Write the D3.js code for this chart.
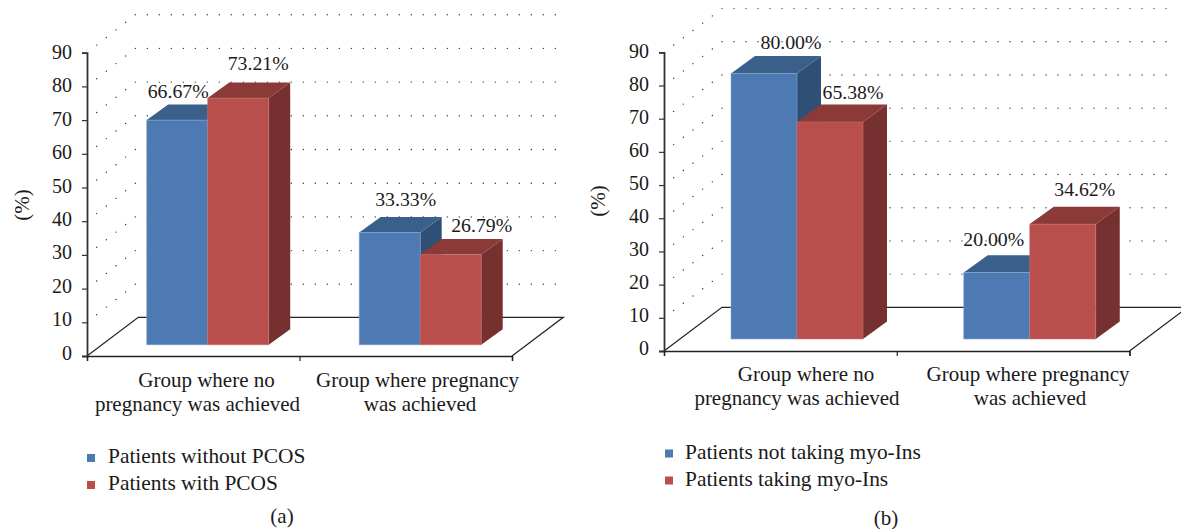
<!DOCTYPE html>
<html>
<head>
<meta charset="utf-8">
<script src="https://cdn.jsdelivr.net/npm/d3@7"></script>
<style>
html,body{margin:0;padding:0;background:#fff;overflow:hidden}
svg{display:block}
text{font-family:"Liberation Serif",serif;fill:#1a1a1a}
</style>
</head>
<body>
<svg id="c" width="1181" height="529"></svg>
<script>
const categoryLines = [["Group where no","pregnancy was achieved"],["Group where pregnancy","was achieved"]];
const yTicks = [0,10,20,30,40,50,60,70,80,90];
const seriesNamesA = ["Patients without PCOS","Patients with PCOS"];
const seriesNamesB = ["Patients not taking myo-Ins","Patients taking myo-Ins"];
const valuesA = [[66.67,33.33],[73.21,26.79]];
const valuesB = [[80.00,20.00],[65.38,34.62]];

const palette = [
  {front:"#4d7ab3",top:"#3a5f8a",side:"#2f4f76",edge:"#86a5cc"},
  {front:"#b84f4c",top:"#8b3a38",side:"#75302f",edge:"#c77573"}
];
const svg = d3.select("#c");

function panel(o){
  const g = svg.append("g");
  const y = d3.scaleLinear().domain([0,90]).range([o.y0,o.y90]);
  const x = d3.scaleBand().domain([0,1]).range([o.x0,o.x1]);
  const [dx,dy] = o.depth;

  // dotted walls
  const dots = g.append("g").attr("fill","#333");
  yTicks.slice(1).forEach(t=>{
    for(let k=1;k<=o.sideDots;k++){
      dots.append("circle").attr("cx",o.x0+k*dx/o.sideDots).attr("cy",y(t)+k*dy/o.sideDots).attr("r",0.7);
    }
    for(let px=o.x0+dx+12;px<=o.dotEnd;px+=12){
      dots.append("circle").attr("cx",px).attr("cy",y(t)+dy).attr("r",0.7);
    }
  });

  // floor outline
  const floor = d3.line();
  const fd = o.floorDepth;
  g.append("path").attr("fill","none").attr("stroke","#222").attr("stroke-width",1.2)
    .attr("d",floor([[o.x0,o.y0],[o.x0+fd[0],o.y0+fd[1]],[o.x1+fd[0],o.y0+fd[1]],[o.x1,o.y0]]));

  // axes
  const ax = g.append("g").attr("transform",`translate(${o.x0},0)`)
    .call(d3.axisLeft(y).tickValues(yTicks).tickSize(5).tickPadding(10));
  ax.selectAll("path").attr("stroke","#333").attr("stroke-width",1.8);
  ax.selectAll("line").attr("stroke","#333").attr("stroke-width",1.2);
  ax.selectAll("text").attr("font-size",20).attr("font-family","Liberation Serif").attr("fill","#1a1a1a")
    .attr("transform",t=>`translate(0,${-1-2*(1-t/90)})`);

  const xt = d3.scaleLinear().domain([0,2]).range([o.x0,o.x1]);
  const bx = g.append("g").attr("transform",`translate(0,${o.y0})`)
    .call(d3.axisBottom(xt).tickValues([0,1,2]).tickFormat("").tickSize(5));
  bx.selectAll("path").attr("stroke","#222").attr("stroke-width",1.4);
  bx.selectAll("line").attr("stroke","#222").attr("stroke-width",1.2);

  // bars
  o.values.forEach((vals,s)=>{
    vals.forEach((v,c)=>{
      const c_ = palette[s];
      const l = x(c)+o.barStart+s*o.barW, r = l+o.barW;
      const t = y(v)-o.lift, b = y(0)-o.lift;
      const poly = pts=>pts.map(p=>p.join(",")).join(" ");
      g.append("polygon").attr("fill",c_.side).attr("points",poly([[r,t],[r+o.bar3d[0],t+o.bar3d[1]],[r+o.bar3d[0],b+o.bar3d[1]],[r,b]]));
      g.append("polygon").attr("fill",c_.top).attr("points",poly([[l,t],[l+o.bar3d[0],t+o.bar3d[1]],[r+o.bar3d[0],t+o.bar3d[1]],[r,t]]));
      g.append("rect").attr("x",l).attr("y",t).attr("width",o.barW).attr("height",b-t)
        .attr("fill",c_.front).attr("stroke",c_.edge).attr("stroke-width",0.8).attr("stroke-opacity",0.7);
      const off = o.labelOffsets[s][c];
      g.append("text").attr("x",(l+r)/2+off[0]).attr("y",t+off[1]).attr("text-anchor","middle")
        .attr("font-size",19.8).text(v.toFixed(2)+"%");
    });
  });

  // category labels
  categoryLines.forEach((lines,c)=>{
    lines.forEach((line,i)=>{
      g.append("text").attr("x",o.catX[c][i]).attr("y",o.catY[i]).attr("text-anchor","middle")
        .attr("font-size",21).text(line);
    });
  });

  // y title
  g.append("text").attr("transform",`translate(${o.titleX},${o.titleY}) rotate(-90)`)
    .attr("text-anchor","middle").attr("font-size",21).text("(%)");

  // legend
  o.names.forEach((n,s)=>{
    g.append("rect").attr("x",o.legX).attr("y",o.legY[s]-9).attr("width",8).attr("height",8).attr("fill",palette[s].front);
    g.append("text").attr("x",o.legTextX).attr("y",o.legY[s]).attr("font-size",21.4).text(n);
  });

  g.append("text").attr("x",o.capX).attr("y",o.capY).attr("text-anchor","middle").attr("font-size",21).text(o.cap);
}

panel({
  x0:87,x1:512,y0:356,y90:52.7,depth:[48.3,-38],floorDepth:[51.3,-38.7],sideDots:5,dotEnd:558,
  barStart:59.7,barW:61,lift:11.2,bar3d:[21.5,-15.5],
  values:valuesA,names:seriesNamesA,
  labelOffsets:[[[1,-22],[16,-26]],[[20,-28],[31,-23]]],
  catX:[[206.5,197.5],[417.5,420]],catY:[386.5,411],
  titleX:29,titleY:205,legX:87,legTextX:108,legY:[463,490],cap:"(a)",capX:282,capY:523
});
panel({
  x0:664,x1:1129.5,y0:351,y90:52.3,depth:[58,-43.7],floorDepth:[58,-43.7],sideDots:6,dotEnd:1172,
  barStart:67,barW:66,lift:12,bar3d:[24,-17.4],
  values:valuesB,names:seriesNamesB,
  labelOffsets:[[[27,-24],[-3,-27]],[[23,-23],[22,-28]]],
  catX:[[806,797],[1028,1030]],catY:[380.5,405],
  titleX:605,titleY:201,legX:665,legTextX:685,legY:[458.5,485.5],cap:"(b)",capX:886,capY:525
});
</script>
</body>
</html>
